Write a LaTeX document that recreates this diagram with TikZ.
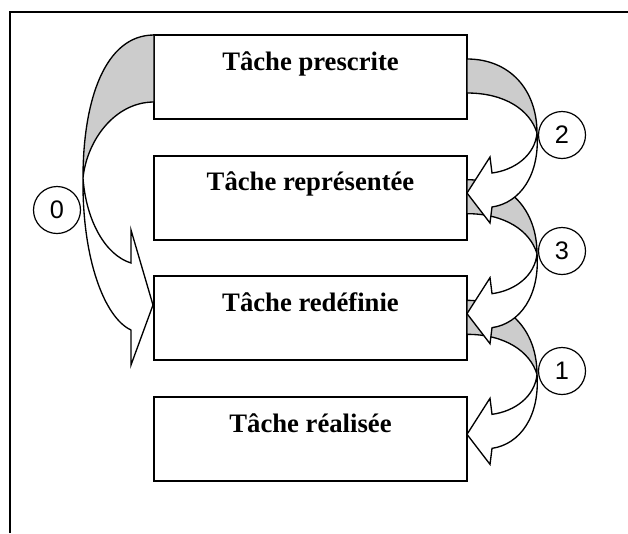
\documentclass[tikz,border=0pt]{standalone}
\usepackage{fontspec}
\setmainfont{Liberation Serif}
\setsansfont{Liberation Sans}
\usetikzlibrary{positioning}
\definecolor{bandgray}{RGB}{204,204,204}

\begin{document}
\begin{tikzpicture}[
        x=0.75pt, y=-0.75pt, node distance=27.5pt,
        box/.style={draw, line width=1.5pt, outer sep=0pt, inner sep=0pt,
          minimum width=234.75pt, text height=26.25pt, text depth=36.75pt,
          font=\fontsize{20}{24}\selectfont\bfseries},
        num/.style={draw, circle, line width=0.9pt, minimum size=35.25pt, inner sep=0pt,
          font=\sffamily\fontsize{19}{22}\selectfont},
        back/.style={draw, line width=1pt, fill=bandgray},
        front/.style={draw, line width=1pt, fill=white},
        ]
        \useasboundingbox (0,0) rectangle (628,533);
        % frame
        \draw[line width=1.5pt] (10,533) -- (10,12) -- (628,12);

        \node[box, anchor=north] (prescrite) at (310.5,35) {Tâche prescrite};
        \node[box, below=of prescrite]   (representee) {Tâche représentée};
        \node[box, below=of representee] (redefinie)   {Tâche redéfinie};
        \node[box, below=of redefinie]   (realisee)    {Tâche réalisée};

        \node[num] (n0) at (57,210)  {0};
        \node[num] (n2) at (562,135) {2};
        \node[num] (n3) at (562,251) {3};
        \node[num] (n1) at (562,371) {1};

        % right arrows, lowest first
        \foreach \b in {redefinie, representee, prescrite} {
          \begin{scope}[shift={(\b.north east)}]
            \path[back] (0,24) .. controls (43,24) and (70,55) .. (70,98)
              .. controls (63,75) and (38,58) .. (0,58) -- cycle;
            \path[front] (70,98) .. controls (68,120) and (48,135) .. (25,138)
              -- (23,122) -- (0,158) -- (23,188) -- (25,172)
              .. controls (53,168) and (73,140) .. (70,98) -- cycle;
          \end{scope}
        }

        % left arrow
        \begin{scope}[shift={(prescrite.north west)}]
          \path[back] (0,0) .. controls (-49,0) and (-71,65) .. (-71,143)
            .. controls (-67,105) and (-39,67) .. (0,67) -- cycle;
          \path[front] (-71,143) .. controls (-68,185) and (-49,220) .. (-23,228)
            -- (-23,195) -- (-1,270) -- (-23,330) -- (-23,295)
            .. controls (-49,283) and (-72,225) .. (-71,143) -- cycle;
        \end{scope}
      \end{tikzpicture}
\end{document}
